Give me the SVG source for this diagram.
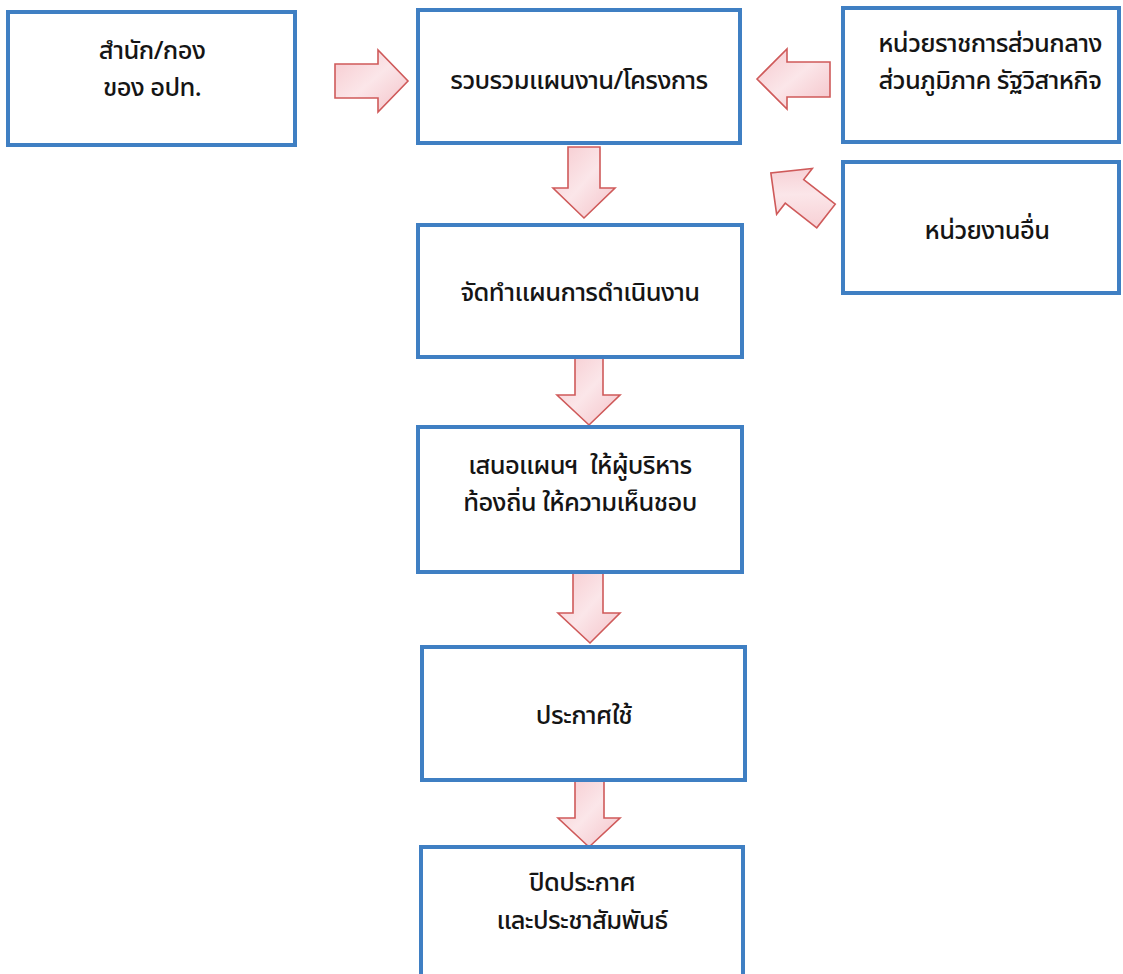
<svg xmlns="http://www.w3.org/2000/svg" width="1123" height="974" viewBox="0 0 1123 974">
  <style>
    .box { fill: #ffffff; stroke: #3f7fc3; stroke-width: 4; }
    .arrow { fill: url(#pink); stroke: #cf5a5a; stroke-width: 1.6; stroke-linejoin: miter; }
    .lbl { font-family: "Noto Sans", "Noto Sans Thai", "Tahoma", "DejaVu Sans", sans-serif; font-size: 25.5px; font-weight: 500; letter-spacing: -0.6px; fill: #151515; text-anchor: middle; white-space: pre; }
  </style>
  <defs>
    <linearGradient id="pink" x1="0" y1="0" x2="1" y2="1">
      <stop offset="0" stop-color="#f6c9ce"/>
      <stop offset="0.5" stop-color="#fbe6e9"/>
      <stop offset="1" stop-color="#f4c2c8"/>
    </linearGradient>
  </defs>
  <rect width="1123" height="974" fill="#ffffff"/>

  <g id="connectors">
    <path class="arrow" d="M335,64 H378 V50 L408,81 L378,112 V98 H335 Z"/>
    <path class="arrow" d="M757,79 L787,49 V62 H830 V97 H787 V109 Z"/>
    <path class="arrow" d="M0,-15 H40 V-29 L70,0 L40,29 V15 H0 Z" transform="translate(826,216) rotate(218)"/>
    <path class="arrow" d="M568,147 H600 V188 H615 L584,218 L553,188 H568 Z"/>
    <path class="arrow" d="M575,357 H603 V395 H620 L589,425 L557,395 H575 Z"/>
    <path class="arrow" d="M573,572 H603 V613 H620 L590,643 L558,613 H573 Z"/>
    <path class="arrow" d="M575,780 H604 V818 H620 L589,847 L558,818 H575 Z"/>
  </g>

  <g id="node-office">
    <rect class="box" x="8" y="12" width="287" height="133"/>
    <text class="lbl" x="152" y="59">สำนัก/กอง</text>
    <text class="lbl" x="152" y="96">ของ อปท.</text>
  </g>

  <g id="node-collect">
    <rect class="box" x="418" y="10" width="322" height="133"/>
    <text class="lbl" x="579" y="89">รวบรวมแผนงาน/โครงการ</text>
  </g>

  <g id="node-agencies">
    <rect class="box" x="843" y="8" width="276" height="134"/>
    <text class="lbl" x="990" y="52">หน่วยราชการส่วนกลาง</text>
    <text class="lbl" x="990" y="89">ส่วนภูมิภาค รัฐวิสาหกิจ</text>
  </g>

  <g id="node-other">
    <rect class="box" x="843" y="162" width="276" height="131"/>
    <text class="lbl" x="987" y="239">หน่วยงานอื่น</text>
  </g>

  <g id="node-plan">
    <rect class="box" x="418" y="225" width="324" height="132"/>
    <text class="lbl" x="580" y="301">จัดทำแผนการดำเนินงาน</text>
  </g>

  <g id="node-propose">
    <rect class="box" x="418" y="427" width="324" height="145"/>
    <text class="lbl" x="580" y="474" xml:space="preserve">เสนอแผนฯ  ให้ผู้บริหาร</text>
    <text class="lbl" x="580" y="511">ท้องถิ่น ให้ความเห็นชอบ</text>
  </g>

  <g id="node-announce">
    <rect class="box" x="422" y="647" width="323" height="133"/>
    <text class="lbl" x="584" y="724">ประกาศใช้</text>
  </g>

  <g id="node-publish">
    <rect class="box" x="421" y="847" width="322" height="130"/>
    <text class="lbl" x="582" y="891">ปิดประกาศ</text>
    <text class="lbl" x="582" y="929">และประชาสัมพันธ์</text>
  </g>
</svg>
